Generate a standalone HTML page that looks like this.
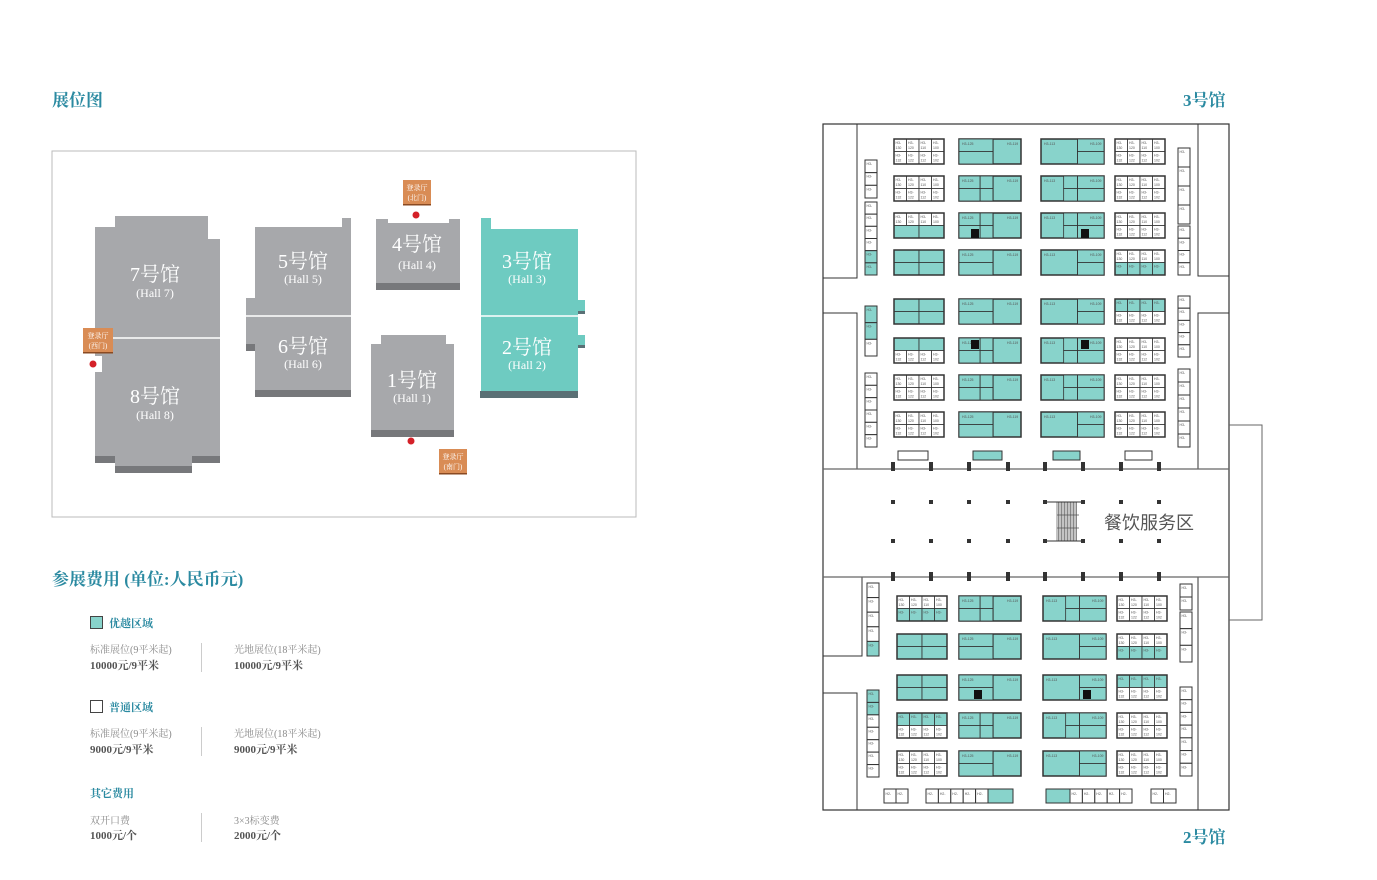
<!DOCTYPE html>
<html><head><meta charset="utf-8">
<style>
html,body{margin:0;padding:0;background:#fff;}
body{width:1377px;height:880px;position:relative;overflow:hidden;font-family:"Liberation Serif","Noto Serif CJK SC",serif;}
.a{position:absolute;}
.t{color:#2b8aa1;font-weight:bold;}
.sm{font-size:10px;color:#8a8a8a;}
.pr{font-size:11px;color:#555;font-weight:bold;}
.vl{position:absolute;width:1px;background:#ccc;}
</style></head><body>
<div class="a t" style="left:52px;top:86px;font-size:17px;">展位图</div>
<div class="a t" style="left:1183px;top:86px;font-size:17px;">3号馆</div>
<div class="a t" style="left:1183px;top:823px;font-size:17px;">2号馆</div>
<div class="a t" style="left:52px;top:565px;font-size:17px;">参展费用 (单位:人民币元)</div>

<div class="a" style="left:90px;top:616px;width:11px;height:11px;background:#88d3cb;border:1px solid #444;"></div>
<div class="a t" style="left:109px;top:615px;font-size:11px;">优越区域</div>
<div class="a sm" style="left:90px;top:641px;">标准展位(9平米起)</div>
<div class="a pr" style="left:90px;top:657px;">10000元/9平米</div>
<div class="vl" style="left:201px;top:643px;height:29px;"></div>
<div class="a sm" style="left:234px;top:641px;">光地展位(18平米起)</div>
<div class="a pr" style="left:234px;top:657px;">10000元/9平米</div>

<div class="a" style="left:90px;top:700px;width:11px;height:11px;background:#fff;border:1px solid #444;"></div>
<div class="a t" style="left:109px;top:699px;font-size:11px;">普通区域</div>
<div class="a sm" style="left:90px;top:725px;">标准展位(9平米起)</div>
<div class="a pr" style="left:90px;top:741px;">9000元/9平米</div>
<div class="vl" style="left:201px;top:727px;height:29px;"></div>
<div class="a sm" style="left:234px;top:725px;">光地展位(18平米起)</div>
<div class="a pr" style="left:234px;top:741px;">9000元/9平米</div>

<div class="a t" style="left:90px;top:785px;font-size:11px;">其它费用</div>
<div class="a sm" style="left:90px;top:812px;">双开口费</div>
<div class="a pr" style="left:90px;top:827px;">1000元/个</div>
<div class="vl" style="left:201px;top:813px;height:29px;"></div>
<div class="a sm" style="left:234px;top:812px;">3×3标变费</div>
<div class="a pr" style="left:234px;top:827px;">2000元/个</div>

<svg class="a" style="left:0;top:0" width="1377" height="880" xmlns="http://www.w3.org/2000/svg">
<rect x="52" y="151" width="584" height="366" fill="none" stroke="#bbb" stroke-width="1"/>
<g fill="#a7a8ab">
<polygon points="95,227 115,227 115,216 208,216 208,239 220,239 220,456 192,456 192,466 115,466 115,456 95,456 95,372 102,372 102,356 95,356"/>
<polygon points="255,227 342,227 342,218 351,218 351,390 255,390 255,344 246,344 246,298 255,298"/>
<polygon points="376,219 388,219 388,223 449,223 449,219 460,219 460,283 376,283"/>
<polygon points="381,335 446,335 446,344 454,344 454,430 371,430 371,344 381,344"/>
</g>
<g fill="#77787b">
<rect x="95" y="456" width="20" height="7"/><rect x="192" y="456" width="28" height="7"/><rect x="115" y="466" width="77" height="7"/>
<rect x="246" y="344" width="9" height="7"/><rect x="255" y="390" width="96" height="7"/>
<rect x="376" y="283" width="84" height="7"/><rect x="371" y="430" width="83" height="7"/>
</g>
<polygon fill="#6ecbc1" points="481,218 491,218 491,229 578,229 578,300 585,300 585,311 578,311 578,335 585,335 585,345 578,345 578,391 481,391"/>
<rect x="480" y="391" width="98" height="7" fill="#5a7075"/>
<rect x="578" y="311" width="7" height="3" fill="#5a7075"/><rect x="578" y="345" width="7" height="3" fill="#5a7075"/>
<g stroke="#fff" stroke-width="1.5"><line x1="95" y1="338" x2="220" y2="338"/><line x1="246" y1="316" x2="351" y2="316"/><line x1="481" y1="316" x2="578" y2="316"/></g>
<g fill="#fff" text-anchor="middle" font-family="Liberation Serif,Noto Serif CJK SC,serif">
<text x="155" y="281" font-size="20">7号馆</text><text x="155" y="297" font-size="12">(Hall 7)</text>
<text x="155" y="403" font-size="20">8号馆</text><text x="155" y="419" font-size="12">(Hall 8)</text>
<text x="303" y="268" font-size="20">5号馆</text><text x="303" y="283" font-size="12">(Hall 5)</text>
<text x="303" y="353" font-size="20">6号馆</text><text x="303" y="368" font-size="12">(Hall 6)</text>
<text x="417" y="251" font-size="20">4号馆</text><text x="417" y="269" font-size="12">(Hall 4)</text>
<text x="412" y="387" font-size="20">1号馆</text><text x="412" y="402" font-size="12">(Hall 1)</text>
<text x="527" y="268" font-size="20">3号馆</text><text x="527" y="283" font-size="12">(Hall 3)</text>
<text x="527" y="354" font-size="20">2号馆</text><text x="527" y="369" font-size="12">(Hall 2)</text>
</g>
<g fill="#d98c55"><rect x="403" y="180" width="28" height="25"/><rect x="83" y="328" width="30" height="25"/><rect x="439" y="449" width="28" height="25"/></g>
<g fill="#8a4a22"><rect x="403" y="204" width="28" height="1.5"/><rect x="83" y="352" width="30" height="1.5"/><rect x="439" y="473" width="28" height="1.5"/></g>
<g fill="#fff" font-size="7" text-anchor="middle" font-family="Liberation Serif,Noto Serif CJK SC,serif">
<text x="417" y="190">登录厅</text><text x="417" y="200">(北门)</text>
<text x="98" y="338">登录厅</text><text x="98" y="348">(西门)</text>
<text x="453" y="459">登录厅</text><text x="453" y="469">(南门)</text>
</g>
<g fill="#d42028"><circle cx="416" cy="215" r="3.5"/><circle cx="93" cy="364" r="3.5"/><circle cx="411" cy="441" r="3.5"/></g>
<g id="fp"></g>
</svg>
<script>
var T='#88d3cb',S='';
function r(x,y,w,h,f,sw){S+='<rect x="'+x+'" y="'+y+'" width="'+w+'" height="'+h+'" fill="'+(f||'none')+'" stroke="#333" stroke-width="'+(sw||1)+'"/>';}
function l(x1,y1,x2,y2,c,w){S+='<line x1="'+x1+'" y1="'+y1+'" x2="'+x2+'" y2="'+y2+'" stroke="'+(c||'#777')+'" stroke-width="'+(w||1)+'"/>';}
function tx(x,y,s){S+='<text x="'+x+'" y="'+y+'" font-size="3.5" fill="#555" font-family="Liberation Sans,sans-serif">'+s+'</text>';}
S+='<g fill="none" stroke="#666" stroke-width="1">';
r(823,124,406,686,'none',1.2);
r(823,124,34,154);r(1198,124,31,152);r(823,313,34,156);r(1198,313,31,156);
r(823,577,39,79);r(823,693,34,117);r(1198,577,31,233);
S+='<polyline points="1229,425 1262,425 1262,620 1229,620" fill="none" stroke="#666"/>';
l(823,469,1229,469,'#666',1.2);l(823,577,1229,577,'#666',1.2);
S+='</g>';
var px=[893,931,969,1008,1045,1083,1121,1159];
px.forEach(function(x){S+='<rect x="'+(x-2)+'" y="462" width="4" height="9" fill="#333"/><rect x="'+(x-2)+'" y="572" width="4" height="9" fill="#333"/><rect x="'+(x-2)+'" y="500" width="4" height="4" fill="#333"/><rect x="'+(x-2)+'" y="539" width="4" height="4" fill="#333"/>';});
for(var i=0;i<14;i++)l(1057+i*1.5,502,1057+i*1.5,541,'#555',0.7);
l(1045,502,1083,502,'#333',1);l(1045,541,1083,541,'#333',1);l(1057,515,1079,515,'#555',.7);l(1057,528,1079,528,'#555',.7);
S+='<text x="1104" y="529" font-size="18" fill="#555" font-family="Liberation Sans,Noto Sans CJK SC,sans-serif">餐饮服务区</text>';
function grid(x,y,w,h,top,bot){
 var cw=w/4,hh=h/2;
 if(top=='w'){for(var i=0;i<4;i++){r(x+i*cw,y,cw,hh,'#fff',0.8);tx(x+i*cw+1.5,y+5,'H3-');tx(x+i*cw+1.5,y+10,'1'+(3-i)+'0');}}
 else if(top=='t2'){r(x,y,w/2,hh,T,0.8);r(x+w/2,y,w/2,hh,T,0.8);}
 else {for(var i=0;i<4;i++){r(x+i*cw,y,cw,hh,T,0.8);tx(x+i*cw+1.5,y+5,'H3-');}}
 if(bot=='w'){for(var i=0;i<4;i++){r(x+i*cw,y+hh,cw,hh,'#fff',0.8);tx(x+i*cw+1.5,y+hh+5,'H3-');tx(x+i*cw+1.5,y+hh+10,'1'+(3-i)+'2');}}
 else if(bot=='t2'){r(x,y+hh,w/2,hh,T,0.8);r(x+w/2,y+hh,w/2,hh,T,0.8);}
 else {for(var i=0;i<4;i++){r(x+i*cw,y+hh,cw,hh,T,0.8);tx(x+i*cw+1.5,y+hh+5,'H3-');}}
 r(x,y,w,h,'none',1.5);
}
function big2(x,y,w,h,mid){
 var a=w*0.55;
 r(x,y,w,h,T,1.5);r(x,y,a*(mid?0.62:1),h/2,T,0.8);r(x,y+h/2,a*(mid?0.62:1),h/2,T,0.8);
 if(mid){r(x+a*0.62,y,a*0.38,h/2,T,0.8);r(x+a*0.62,y+h/2,a*0.38,h/2,T,0.8);}
 l(x+a,y,x+a,y+h,'#333',1);tx(x+3,y+6,'H3-125');tx(x+w-14,y+6,'H3-119');
}
function big3(x,y,w,h,mid){
 var a=w*0.58;
 r(x,y,w,h,T,1.5);
 if(mid){r(x+a*0.62,y,a*0.38,h/2,T,0.8);r(x+a*0.62,y+h/2,a*0.38,h/2,T,0.8);}
 l(x+a,y,x+a,y+h,'#333',1);r(x+a,y,w-a,h/2,T,0.8);r(x+a,y+h/2,w-a,h/2,T,0.8);
 tx(x+3,y+6,'H3-113');tx(x+w-14,y+6,'H3-109');
}
var topRows=[139,176,213,250,299,338,375,412],botRows=[596,634,675,713,751];
var c1t=[['w','w'],['w','w'],['w','t2'],['t2','t2'],['t2','t2'],['t2','w'],['w','w'],['w','w']];
var c4t=[['w','w'],['w','w'],['w','w'],['w','t'],['t','w'],['w','w'],['w','w'],['w','w']];
topRows.forEach(function(y,i){grid(894,y,50,25,c1t[i][0],c1t[i][1]);grid(1115,y,50,25,c4t[i][0],c4t[i][1]);big2(959,y,62,25,i%4==1||i%4==2);big3(1041,y,63,25,i%4==1||i%4==2);});
var c1b=[['w','t'],['t2','t2'],['t2','t2'],['t','w'],['w','w']];
var c4b=[['w','w'],['w','t'],['t','w'],['w','w'],['w','w']];
botRows.forEach(function(y,i){grid(897,y,50,25,c1b[i][0],c1b[i][1]);grid(1117,y,50,25,c4b[i][0],c4b[i][1]);big2(959,y,62,25,i==0||i==3);big3(1043,y,63,25,i==0||i==3);});
[[975,234],[1085,234],[975,345],[1085,345],[978,695],[1087,695]].forEach(function(p){S+='<rect x="'+(p[0]-4)+'" y="'+(p[1]-5)+'" width="8" height="9" fill="#111"/>';});
function col(x,y0,y1,n,teal,w){var h=(y1-y0)/n;for(var i=0;i<n;i++){r(x,y0+i*h,w||12,h,(teal&&teal.indexOf(i)>=0)?T:'#fff',1);tx(x+1.5,y0+i*h+5,'H3-');}}
col(865,160,198,3);col(865,202,275,6,[4,5]);col(865,306,356,3,[0,1]);col(865,373,447,6);
col(1178,148,224,4);col(1178,226,275,4);col(1178,296,357,5);col(1178,369,447,6);
col(867,583,656,5,[4]);col(867,690,777,7,[0,1]);
col(1180,584,610,2);col(1180,612,662,3);col(1180,687,776,7);
function crow(x0,x1,tl){var n=Math.round((x1-x0)/12.5),w=(x1-x0)/n;for(var i=0;i<n;i++){r(x0+i*w,789,w,14,(tl&&tl.indexOf(i)>=0)?T:'#fff',1);tx(x0+i*w+1.5,795,'H2-');}}
crow(884,908);crow(926,988);r(988,789,25,14,T,1);crow(1070,1132);r(1046,789,24,14,T,1);crow(1151,1176);
r(898,451,30,9,'#fff',1);r(973,451,29,9,T,1);r(1053,451,27,9,T,1);r(1125,451,27,9,'#fff',1);
document.getElementById('fp').innerHTML=S;
</script>
</body></html>
